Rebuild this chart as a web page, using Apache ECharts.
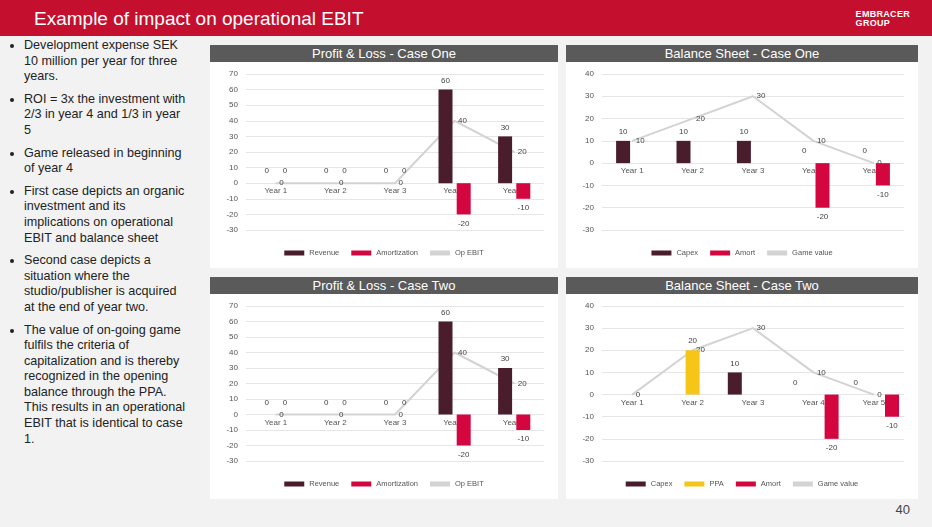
<!DOCTYPE html>
<html><head><meta charset="utf-8">
<script src="https://cdn.jsdelivr.net/npm/echarts@6/dist/echarts.min.js"></script>
<style>
body{margin:0;width:932px;height:527px;background:#f2f2f2;font-family:Arial,"Liberation Sans",sans-serif;position:relative;overflow:hidden}
#top{position:absolute;left:0;top:0;width:932px;height:36px;background:#c4102e}
#top span{position:absolute;left:34px;top:8px;color:#fff;font-size:19px}
#logo{position:absolute;right:22px;top:10px;color:#fff;font-weight:bold;font-size:9px;line-height:9px;text-align:left;letter-spacing:0.3px}
.panel{position:absolute;background:#fff}
.hdr{position:absolute;left:0;top:0;right:0;height:17px;background:#5a5a5a;color:#fff;text-align:center;font-size:13px;line-height:17px}
.ch{position:absolute;left:0;right:0;top:17px;bottom:0}
ul{position:absolute;left:8px;top:38px;width:166px;margin:0;padding-left:16px;font-size:12.6px;color:#222;line-height:15.6px}
li{margin-bottom:7px}
#pg{position:absolute;right:22px;bottom:10px;font-size:13px;color:#444}
</style></head><body>
<div id="top"><span>Example of impact on operational EBIT</span><div id="logo">EMBRACER<br>GROUP</div></div>
<ul>
<li>Development expense SEK 10 million per year for three years.</li>
<li>ROI = 3x the investment with 2/3 in year 4 and 1/3 in year 5</li>
<li>Game released in beginning of year 4</li>
<li>First case depicts an organic investment and its implications on operational EBIT and balance sheet</li>
<li>Second case depicts a situation where the studio/publisher is acquired at the end of year two.</li>
<li>The value of on-going game fulfils the criteria of capitalization and is thereby recognized in the opening balance through the PPA. This results in an operational EBIT that is identical to case 1.</li>
</ul>
<div class="panel" style="left:210px;top:45px;width:348px;height:223px"><div class="hdr">Profit &amp; Loss - Case One</div><div class="ch" id="c1"></div></div>
<div class="panel" style="left:566px;top:45px;width:352px;height:223px"><div class="hdr">Balance Sheet - Case One</div><div class="ch" id="c2"></div></div>
<div class="panel" style="left:210px;top:277px;width:348px;height:222px"><div class="hdr">Profit &amp; Loss - Case Two</div><div class="ch" id="c3"></div></div>
<div class="panel" style="left:566px;top:277px;width:352px;height:222px"><div class="hdr">Balance Sheet - Case Two</div><div class="ch" id="c4"></div></div>
<div id="pg">40</div>
<script>
const years=['Year 1','Year 2','Year 3','Year 4','Year 5'];
const plRevenue=[0,0,0,60,30];
const plAmort=[0,0,0,-20,-10];
const plEbit=[0,0,0,40,20];
const bs1Capex=[10,10,10,0,0];
const bs1Amort=[null,null,null,-20,-10];
const bs1Game=[10,20,30,10,0];
const bs2Capex=[null,null,10,0,0];
const bs2PPA=[null,20,null,null,null];
const bs2Amort=[null,null,null,-20,-10];
const bs2Game=[0,20,30,10,0];
const C={dark:'#4a1d2d',red:'#d4063f',line:'#d3d3d3',ppa:'#f5c518'};
const lab={show:true,color:'#444',fontSize:8};
function bar(name,data,color,bw){
  return {name,type:'bar',barWidth:bw,barGap:'30%',itemStyle:{color},label:Object.assign({position:'top'},lab),
    labelLayout:{hideOverlap:false},
    data:data.map(v=>v===null?null:{value:v,label:{position:v<0?'bottom':'top',distance:v===0?8:5}})};
}
function line(name,data){return {name,type:'line',data,symbol:'circle',symbolSize:1,showSymbol:true,
  lineStyle:{color:C.line,width:2},itemStyle:{color:C.line},
  label:Object.assign({position:'right',distance:3},lab),labelLayout:{hideOverlap:false},z:1};}
function make(id,min,max,series){
  const ch=echarts.init(document.getElementById(id));
  ch.setOption({animation:false,
    grid:{left:36,right:14,top:12,bottom:38},
    legend:{bottom:6,itemWidth:20,itemHeight:5,itemGap:12,textStyle:{fontSize:7.5,color:'#555'},icon:'rect'},
    xAxis:{type:'category',data:years,axisLine:{show:false},axisTick:{show:false},axisLabel:{fontSize:8,color:'#555',margin:4},z:0},
    yAxis:{type:'value',min,max,interval:10,axisLabel:{fontSize:8,color:'#555'},splitLine:{lineStyle:{color:'#e6e6e6'}}},
    series});
  const y0=ch.convertToPixel({yAxisIndex:0},0), yb=ch.convertToPixel({yAxisIndex:0},min);
  ch.setOption({xAxis:{offset:-(yb-y0)}});
}
make('c1',-30,70,[bar('Revenue',plRevenue,C.dark,14),bar('Amortization',plAmort,C.red,14),line('Op EBIT',plEbit)]);
make('c3',-30,70,[bar('Revenue',plRevenue,C.dark,14),bar('Amortization',plAmort,C.red,14),line('Op EBIT',plEbit)]);
make('c2',-30,40,[bar('Capex',bs1Capex,C.dark,14),bar('Amort',bs1Amort,C.red,14),line('Game value',bs1Game)]);
make('c4',-30,40,[bar('Capex',bs2Capex,C.dark,14),bar('PPA',bs2PPA,C.ppa,14),bar('Amort',bs2Amort,C.red,14),line('Game value',bs2Game)]);
</script></body></html>
